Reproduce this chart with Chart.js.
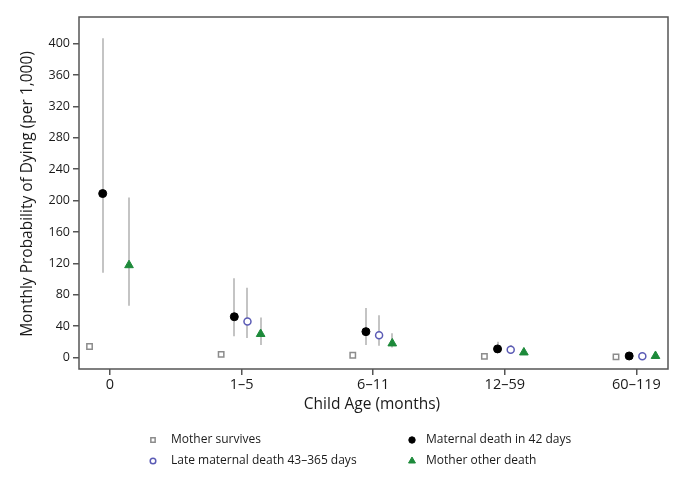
<!DOCTYPE html>
<html>
<head>
<meta charset="utf-8">
<script src="https://cdn.jsdelivr.net/npm/chart.js@4/dist/chart.umd.min.js"></script>
<style>
  html, body { margin: 0; padding: 0; background: #fff; }
  #wrap { width: 685px; height: 498px; }
</style>
</head>
<body>
<div id="wrap"><canvas id="chart" width="685" height="498"></canvas></div>
<script>
// --- data ---
const ageGroups = ['0', '1\u20135', '6\u201311', '12\u201359', '60\u2013119'];
const seriesNames = ['Mother survives', 'Maternal death in 42 days', 'Late maternal death 43\u2013365 days', 'Mother other death'];
const yTicks = [0, 40, 80, 120, 160, 200, 240, 280, 320, 360, 400];

const survivesValues = [14, 4, 3, 1.5, 0.8];
const survivesLow = [null, null, null, null, null];
const survivesHigh = [null, null, null, null, null];

const maternal42Values = [209, 52, 33, 11, 2];
const maternal42Low = [108, 27, 16, 6, null];
const maternal42High = [407, 101, 63, 20, null];

const lateValues = [null, 46, 28.5, 10, 1.5];
const lateLow = [null, 25, 15, 5, null];
const lateHigh = [null, 89, 54, 16, null];

const otherValues = [117.7, 30, 18, 6.5, 2];
const otherLow = [66, 16, 12.7, null, null];
const otherHigh = [204, 51, 31, null, null];

// --- styling ---
const FONT = '"Open Sans", "Noto Sans", sans-serif';
const TEXT = '#1a1a1a';
const seriesOffsets = [-0.155, -0.055, 0.045, 0.145];
const seriesStyles = [
  { pointStyle: 'rect', radius: 3.8, bg: '#fff', border: '#8c8c8c', bw: 1.5 },
  { pointStyle: 'circle', radius: 4, bg: '#000', border: '#000', bw: 1 },
  { pointStyle: 'circle', radius: 3.5, bg: '#fff', border: '#5b5bb5', bw: 1.5 },
  { pointStyle: 'triangle', radius: 5, bg: '#1d8a3a', border: '#1d8a3a', bw: 1 }
];
const allValues = [survivesValues, maternal42Values, lateValues, otherValues];
const allLow = [survivesLow, maternal42Low, lateLow, otherLow];
const allHigh = [survivesHigh, maternal42High, lateHigh, otherHigh];

const toPoints = (vals, k) => vals
  .map((v, i) => (v === null ? null : { x: i + seriesOffsets[k], y: v }))
  .filter(p => p !== null);

const datasets = seriesNames.map((name, k) => ({
  label: name,
  data: toPoints(allValues[k], k),
  pointStyle: seriesStyles[k].pointStyle,
  pointRadius: seriesStyles[k].radius,
  pointBackgroundColor: seriesStyles[k].bg,
  pointBorderColor: seriesStyles[k].border,
  pointBorderWidth: seriesStyles[k].bw,
  showLine: false
}));

// error bars, frame, axis titles and the two-column legend
const extras = {
  id: 'extras',
  beforeDatasetsDraw(chart) {
    const { ctx, scales: { x, y } } = chart;
    ctx.save();
    ctx.strokeStyle = '#c4c4c4';
    ctx.lineWidth = 2;
    allLow.forEach((lows, k) => {
      lows.forEach((lo, i) => {
        const hi = allHigh[k][i];
        if (lo === null || hi === null) return;
        const px = Math.round(x.getPixelForValue(i + seriesOffsets[k]));
        ctx.beginPath();
        ctx.moveTo(px, y.getPixelForValue(lo));
        ctx.lineTo(px, y.getPixelForValue(hi));
        ctx.stroke();
      });
    });
    ctx.restore();
  },
  afterDraw(chart) {
    const { ctx, chartArea: a } = chart;
    ctx.save();
    ctx.strokeStyle = '#555';
    ctx.lineWidth = 1.5;
    ctx.strokeRect(a.left, a.top, a.right - a.left, a.bottom - a.top);

    ctx.fillStyle = TEXT;
    ctx.font = '15.5px ' + FONT;
    ctx.textAlign = 'center';
    ctx.textBaseline = 'middle';
    ctx.fillText('Child Age (months)', 372, 405);
    ctx.save();
    ctx.translate(28, 194);
    ctx.rotate(-Math.PI / 2);
    ctx.fillText('Monthly Probability of Dying (per 1,000)', 0, 0);
    ctx.restore();

    // legend
    const cols = [153, 412];
    const textGap = [18, 14];
    const rows = [440, 461];
    ctx.font = '12px ' + FONT;
    ctx.textAlign = 'left';
    seriesNames.forEach((name, k) => {
      const c = k % 2;
      const mx = cols[c];
      const my = rows[Math.floor(k / 2)];
      const st = seriesStyles[k];
      ctx.fillStyle = st.bg;
      ctx.strokeStyle = st.border;
      ctx.lineWidth = st.bw;
      Chart.helpers.drawPoint(ctx, {
        pointStyle: st.pointStyle,
        radius: st.radius * 0.8,
        borderWidth: st.bw
      }, mx, my);
      ctx.fillStyle = TEXT;
      ctx.fillText(name, mx + textGap[c], my);
    });
    ctx.restore();
  }
};

new Chart(document.getElementById('chart'), {
  type: 'scatter',
  data: { datasets },
  plugins: [extras],
  options: {
    responsive: false,
    animation: false,
    layout: { padding: { left: 0, right: 17, top: 17, bottom: 0 } },
    plugins: { legend: { display: false }, tooltip: { enabled: false } },
    scales: {
      x: {
        type: 'linear',
        min: -0.235,
        max: 4.24,
        afterBuildTicks: s => { s.ticks = ageGroups.map((_, i) => ({ value: i })); },
        afterFit: s => { s.height = 129; },
        ticks: {
          callback: v => ageGroups[v],
          color: TEXT,
          font: { family: FONT, size: 14.5 },
          padding: 1,
          maxRotation: 0
        },
        grid: { drawOnChartArea: false, drawTicks: true, tickLength: 6, color: '#555', lineWidth: 1.5 },
        border: { display: false }
      },
      y: {
        min: -14.6,
        max: 434,
        afterBuildTicks: s => { s.ticks = yTicks.map(v => ({ value: v })); },
        afterFit: s => { s.width = 79; },
        ticks: {
          color: TEXT,
          font: { family: FONT, size: 12.5 },
          padding: 3
        },
        grid: { drawOnChartArea: false, drawTicks: true, tickLength: 6, color: '#555', lineWidth: 1.5 },
        border: { display: false }
      }
    }
  }
});
</script>
</body>
</html>
